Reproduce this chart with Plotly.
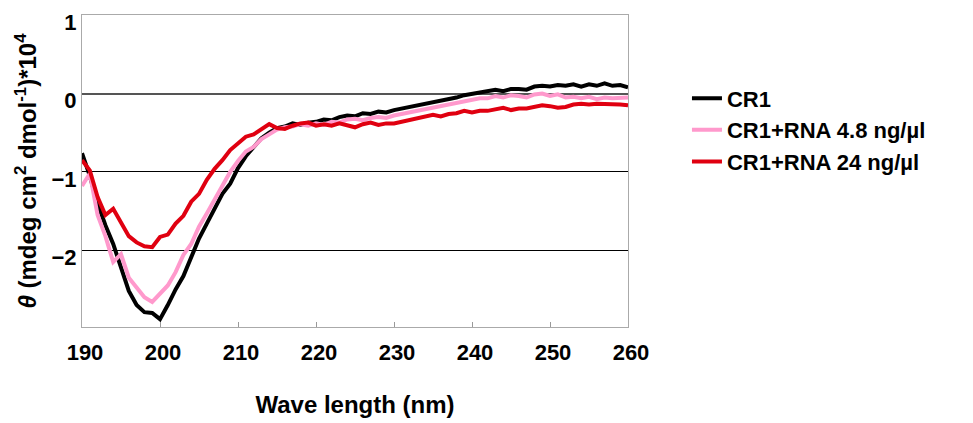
import plotly.graph_objects as go

wavelength = list(range(190, 261))

cr1 = [-0.76, -1.05, -1.40, -1.68, -1.92, -2.22, -2.52, -2.70, -2.79, -2.80,
       -2.88, -2.70, -2.50, -2.33, -2.10, -1.85, -1.66, -1.46, -1.28, -1.15,
       -0.95, -0.80, -0.68, -0.57, -0.50, -0.44, -0.42, -0.38, -0.40, -0.37,
       -0.36, -0.33, -0.34, -0.30, -0.28, -0.29, -0.25, -0.26, -0.23, -0.24,
       -0.21, -0.19, -0.18, -0.15, -0.14, -0.12, -0.10, -0.07, -0.05, -0.02,
       0.00, 0.02, 0.04, 0.05, 0.03, 0.06, 0.06, 0.05, 0.09, 0.10,
       0.09, 0.11, 0.10, 0.12, 0.09, 0.12, 0.10, 0.13, 0.10, 0.11,
       0.08]

cr1_rna_4_8 = [-1.18, -1.02, -1.55, -1.82, -2.15, -2.05, -2.35, -2.48, -2.60, -2.66,
               -2.55, -2.45, -2.28, -2.06, -1.92, -1.70, -1.53, -1.36, -1.18, -1.00,
               -0.86, -0.74, -0.68, -0.58, -0.52, -0.46, -0.43, -0.42, -0.39, -0.41,
               -0.38, -0.40, -0.36, -0.37, -0.33, -0.32, -0.34, -0.31, -0.30, -0.31,
               -0.28, -0.26, -0.24, -0.22, -0.19, -0.18, -0.15, -0.13, -0.12, -0.10,
               -0.08, -0.06, -0.06, -0.03, -0.05, -0.02, -0.03, -0.05, -0.01, 0.00,
               -0.03, -0.01, -0.05, -0.04, -0.06, -0.04, -0.07, -0.05, -0.06, -0.05,
               -0.05]

cr1_rna_24 = [-0.85, -0.98, -1.32, -1.55, -1.47, -1.64, -1.82, -1.90, -1.95, -1.96,
              -1.83, -1.80, -1.66, -1.56, -1.38, -1.28, -1.10, -0.96, -0.85, -0.72,
              -0.64, -0.55, -0.52, -0.46, -0.39, -0.44, -0.45, -0.41, -0.38, -0.37,
              -0.41, -0.39, -0.41, -0.38, -0.40, -0.43, -0.39, -0.37, -0.40, -0.38,
              -0.38, -0.36, -0.33, -0.31, -0.29, -0.27, -0.29, -0.26, -0.25, -0.22,
              -0.24, -0.22, -0.22, -0.20, -0.18, -0.21, -0.19, -0.19, -0.17, -0.15,
              -0.16, -0.18, -0.17, -0.14, -0.13, -0.14, -0.13, -0.13, -0.14, -0.14,
              -0.15]

series_names = ["CR1", "CR1+RNA 4.8 ng/µl", "CR1+RNA 24 ng/µl"]
series_colors = ["#000000", "#ff99cc", "#e00010"]
series_values = [cr1, cr1_rna_4_8, cr1_rna_24]

x_ticks = [190, 200, 210, 220, 230, 240, 250, 260]
y_ticks = [-2, -1, 0, 1]

FONT = "Liberation Sans, Arial, sans-serif"

fig = go.Figure()
for name, color, vals in zip(series_names, series_colors, series_values):
    fig.add_trace(go.Scatter(x=wavelength, y=vals, mode="lines", name=name,
                             line=dict(color=color, width=4)))

fig.update_layout(
    width=973, height=423,
    margin=dict(l=74, r=353, t=7, b=104),
    plot_bgcolor="white", paper_bgcolor="white",
    font=dict(family=FONT, color="black"),
    legend=dict(x=1.108, y=0.80, xanchor="left", yanchor="top",
                font=dict(size=22, family=FONT, weight="bold"),
                bgcolor="rgba(0,0,0,0)"),
    xaxis=dict(range=[190, 260], tickvals=x_ticks, ticks="inside", ticklen=5,
               tickcolor="#999999", showline=True, linecolor="#aaaaaa", linewidth=1,
               mirror=True, showgrid=False, zeroline=False, automargin=False,
               tickfont=dict(size=22, weight="bold"), ticklabelstandoff=6,
               ticklabelshift=3, ticklabeloverflow="allow",
               title=dict(text="Wave length (nm)", font=dict(size=24, weight="bold"),
                          standoff=31)),
    yaxis=dict(range=[-2.98, 1.004], tickvals=y_ticks, ticks="", showline=True,
               linecolor="#aaaaaa", linewidth=1, mirror=True, automargin=False,
               showgrid=True, gridcolor="black", gridwidth=1,
               zeroline=True, zerolinecolor="#555555", zerolinewidth=2,
               tickfont=dict(size=22, weight="bold"), ticklabeloverflow="allow",
               ticklabelshift=7,
               title=dict(text="<i>θ</i> (mdeg cm<sup>2</sup> dmol<sup>-1</sup>)*10<sup>4</sup>",
                          font=dict(size=24, weight="bold"), standoff=8)),
)

fig.write_html("out.html")
